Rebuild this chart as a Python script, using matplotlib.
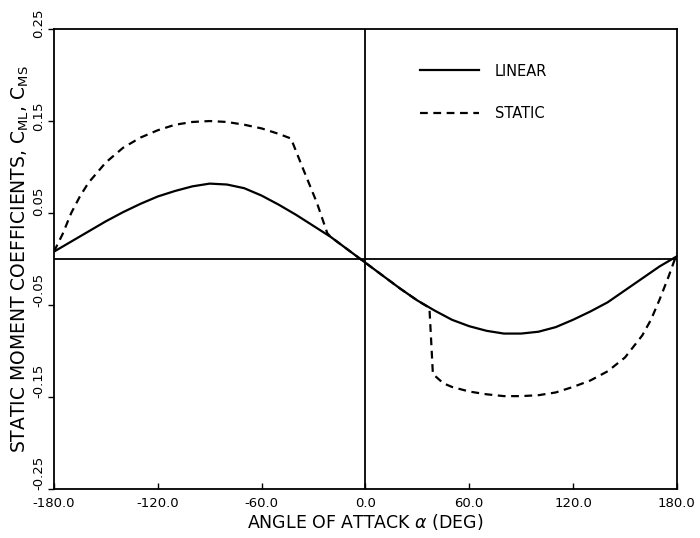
import matplotlib
matplotlib.use("Agg")
import matplotlib.pyplot as plt
from matplotlib.transforms import offset_copy

plt.rcParams['font.family'] = ['DejaVu Sans']

# angle of attack (deg) and moment coefficients
alpha_linear = [-180, -170, -160, -150, -140, -130, -120, -110, -100, -90,
                -80, -70, -60, -50, -40, -30, -20, -10, 0,
                10, 20, 30, 40, 50, 60, 70, 80, 90,
                100, 110, 120, 130, 140, 150, 160, 170, 180]
c_linear = [0.008, 0.019, 0.030, 0.041, 0.051, 0.060, 0.068, 0.074, 0.079, 0.082,
            0.081, 0.077, 0.069, 0.059, 0.048, 0.036, 0.024, 0.010, -0.004,
            -0.018, -0.032, -0.045, -0.056, -0.066, -0.073, -0.078, -0.081, -0.081,
            -0.079, -0.074, -0.066, -0.057, -0.047, -0.034, -0.021, -0.008, 0.003]

alpha_static = [-180, -175, -170, -165, -160, -150, -140, -130, -120, -110,
                -100, -90, -80, -70, -60, -50, -43, -36, -28, -22,
                -20, -10, 0, 10, 20, 30, 37, 39, 45, 50,
                60, 70, 80, 90, 100, 110, 120, 130, 140, 150,
                160, 165, 170, 175, 180]
c_static = [0.008, 0.027, 0.050, 0.068, 0.083, 0.105, 0.121, 0.132, 0.140, 0.146,
            0.149, 0.150, 0.149, 0.146, 0.142, 0.136, 0.131, 0.098, 0.061, 0.028,
            0.024, 0.010, -0.004, -0.018, -0.032, -0.045, -0.053, -0.125, -0.135, -0.139,
            -0.144, -0.147, -0.149, -0.149, -0.148, -0.145, -0.139, -0.132, -0.122, -0.107,
            -0.083, -0.066, -0.044, -0.020, 0.006]

x_ticks = [-180, -120, -60, 0, 60, 120, 180]
x_labels = ['-180.0', '-120.0', '-60.0', '0.0', '60.0', '120.0', '180.0']
y_ticks = [-0.25, -0.15, -0.05, 0.05, 0.15, 0.25]
y_labels = ['-0.25', '-0.15', '-0.05', '0.05', '0.15', '0.25']

fig = plt.figure(figsize=(7.0, 5.38), dpi=100)
ax = fig.add_axes([0.077, 0.091, 0.890, 0.855])

ax.axhline(0, color='black', lw=1.3)
ax.axvline(0, color='black', lw=1.3)
ax.plot(alpha_linear, c_linear, color='black', lw=1.6, label='LINEAR')
ax.plot(alpha_static, c_static, color='black', lw=1.6, linestyle=(0, (3.5, 2.5)),
        label='STATIC')

ax.set_xlim(-180, 180)
ax.set_ylim(-0.25, 0.25)
ax.set_xticks(x_ticks)
ax.set_xticklabels(x_labels, fontsize=9.5)
ax.set_yticks(y_ticks)
ax.set_yticklabels(y_labels, fontsize=9.5, rotation=90, va='center')
ax.tick_params(axis='x', direction='in', length=4, width=1, pad=6)
ax.tick_params(axis='y', direction='out', length=4, width=1, pad=2)

# the printed y labels sit a little above their ticks
shift_up = [16, 16, 15, 12, 5, 6]
for lab, dy in zip(ax.get_yticklabels(), shift_up):
    lab.set_transform(offset_copy(lab.get_transform(), fig=fig, x=0, y=dy, units='dots'))

for s in ax.spines.values():
    s.set_linewidth(1.3)

ax.set_xlabel(r'ANGLE OF ATTACK $\alpha$ (DEG)', fontsize=12.5, labelpad=1)
ax.set_ylabel(r'STATIC MOMENT COEFFICIENTS, C$_{\mathrm{ML}}$, C$_{\mathrm{MS}}$',
              fontsize=13.5, labelpad=1)

ax.legend(loc='upper left', bbox_to_anchor=(0.588, 0.925), frameon=False,
          fontsize=10.5, handlelength=4.0, handletextpad=1.1, labelspacing=1.9,
          borderpad=0, borderaxespad=0)

fig.savefig('out.png', dpi=100)
